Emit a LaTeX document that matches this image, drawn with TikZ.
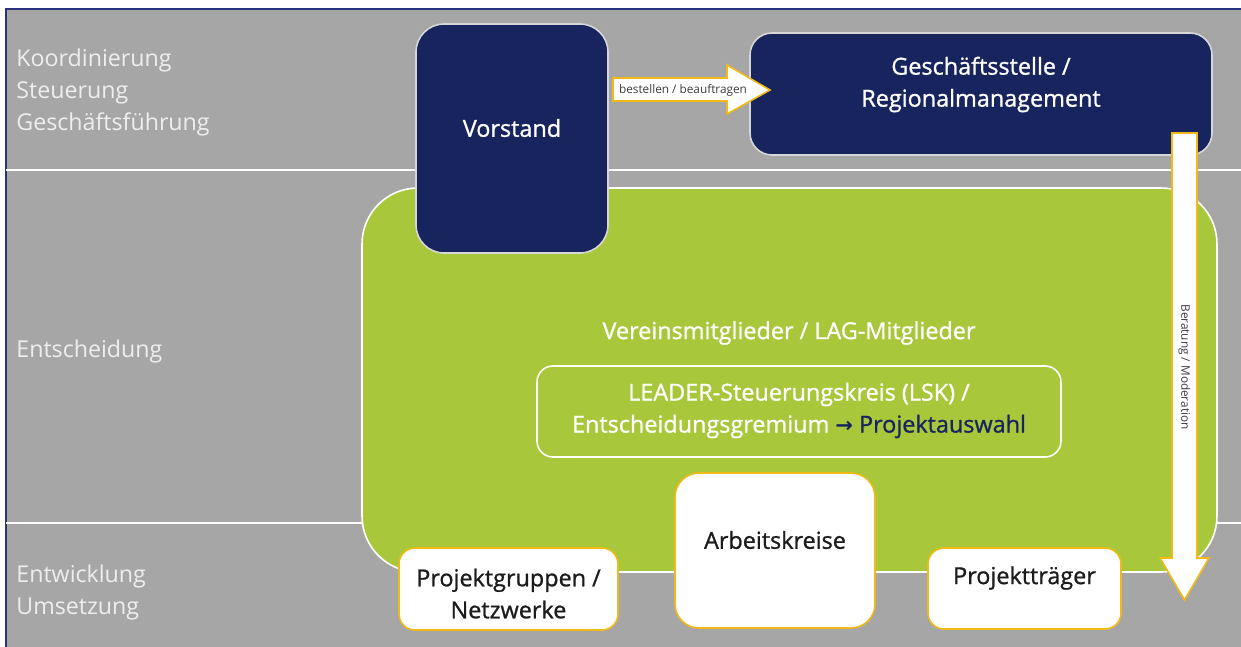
\documentclass[tikz,border=0pt]{standalone}
\usepackage{fontspec}
\setmainfont{Open Sans}
\newfontfamily\semib{Open Sans}[FakeBold=1.0]
\newfontfamily\arrowfont{DejaVu Sans}
\usetikzlibrary{fit}

\definecolor{bggray}{RGB}{166,166,166}
\definecolor{framenavy}{RGB}{40,50,125}
\definecolor{navy}{RGB}{24,36,94}
\definecolor{leafgreen}{RGB}{169,199,58}
\definecolor{gold}{RGB}{242,186,24}
\definecolor{lanewhite}{RGB}{238,238,238}
\definecolor{edgegray}{RGB}{215,215,215}
\definecolor{inkdark}{RGB}{28,28,28}
\definecolor{inkgray}{RGB}{60,60,60}

\begin{document}
\begin{tikzpicture}[x=0.5pt,y=-0.5pt,
  lanetext/.style={text=lanewhite, font=\fontsize{11.6}{16}\selectfont, anchor=west, align=left, inner sep=0pt},
  maintext/.style={font=\semib\fontsize{11.7}{16}\selectfont, align=center, inner sep=0pt},
  smalltext/.style={font=\fontsize{5.9}{6.5}\selectfont, text=inkgray, inner sep=0pt},
  navybox/.style={fill=navy, draw=edgegray, line width=0.8pt, inner sep=0pt},
  whitebox/.style={fill=white, draw=gold, line width=0.8pt, inner sep=0pt},
  blockarrow/.style={fill=white, draw=gold, line width=0.8pt, line join=miter},
]
\useasboundingbox (0,0) rectangle (1241,647);

% page, band background and frame
\fill[white] (0,0) rectangle (1241,647);
\fill[bggray] (6,9) rectangle (1241,647);
\draw[framenavy, line width=1pt] (6,647) -- (6,9) -- (1241,9);

% band separators
\draw[white, line width=1pt] (6,170) -- (1241,170);
\draw[white, line width=1pt] (6,523) -- (1241,523);

% band titles
\node[lanetext] (lane1) at (16,92) {Koordinierung\\Steuerung\\Geschäftsführung};
\node[lanetext] (lane2) at (16,351) {Entscheidung};
\node[lanetext] (lane3) at (16,592) {Entwicklung\\Umsetzung};

% members area
\node[fill=leafgreen, draw=white, line width=0.8pt, rounded corners=28pt, inner sep=0pt,
      fit={(362,188) (1217,572)}] (members) {};
\node[maintext, text=white] (memberstext) at (789,333) {Vereinsmitglieder / LAG-Mitglieder};

% steering committee
\node[draw=white, line width=0.8pt, rounded corners=8pt, inner sep=0pt,
      fit={(537,366) (1061,457)}] (lsk) {};
\node[maintext, text=white] (lsktext) at (799,410.5)
  {LEADER-Steuerungskreis (LSK) /\\Entscheidungsgremium {\color{navy}{\arrowfont\bfseries\fontsize{10.5}{16}\selectfont →} Projektauswahl}};

% board
\node[navybox, rounded corners=14pt, fit={(416,24) (608,253)}] (vorstand) {};
\node[maintext, text=white] (vorstandtext) at (512,128) {Vorstand};

% office
\node[navybox, rounded corners=11pt, fit={(750,33) (1212,155)}] (office) {};
\node[maintext, text=white] (officetext) at (981,84.5) {Geschäftsstelle /\\Regionalmanagement};

% working groups and project holders
\node[whitebox, rounded corners=12pt, fit={(675,473) (875,628)}] (arbeit) {};
\node[maintext, text=inkdark] (arbeittext) at (775,540) {Arbeitskreise};

\node[whitebox, rounded corners=8pt, fit={(399,548) (618,630)}] (gruppen) {};
\node[maintext, text=inkdark] (gruppentext) at (508.5,593.5) {Projektgruppen /\\Netzwerke};

\node[whitebox, rounded corners=8pt, fit={(928,548) (1121,629)}] (traeger) {};
\node[maintext, text=inkdark] (traegertext) at (1024.5,578) {Projektträger};

% block arrow: board -> office
\draw[blockarrow] (613,78) -- (727,78) -- (727,65) -- (770,90) -- (727,114) -- (727,101) -- (613,101) -- cycle;
\node[smalltext] (htext) at (683,90) {bestellen / beauftragen};

% block arrow: office -> downwards
\draw[blockarrow] (1172,133) -- (1197,133) -- (1197,558) -- (1209,558) -- (1184.5,600) -- (1160,558) -- (1172,558) -- cycle;
\node[smalltext, rotate=-90] (vtext) at (1184.5,367) {Beratung / Moderation};

\end{tikzpicture}
\end{document}
